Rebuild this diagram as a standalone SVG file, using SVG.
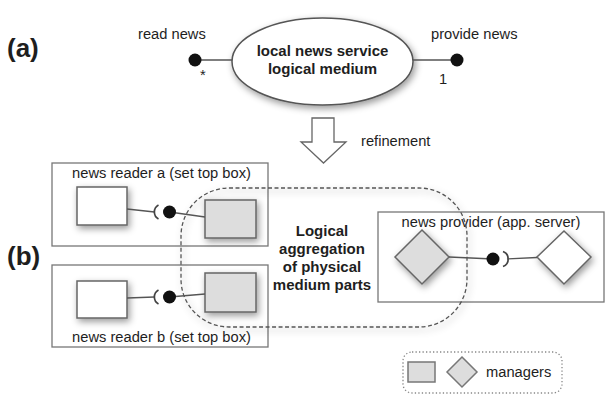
<svg xmlns="http://www.w3.org/2000/svg" width="606" height="398" viewBox="0 0 606 398">
<defs>
<filter id="sh" x="-40%" y="-40%" width="180%" height="190%">
<feDropShadow dx="2" dy="3" stdDeviation="3.5" flood-color="#000" flood-opacity="0.4"/>
</filter>
<style>
.t{font-family:"Liberation Sans",Arial,sans-serif;font-size:14.7px;fill:#1e1e1e}
.b{font-family:"Liberation Sans",Arial,sans-serif;font-size:15px;font-weight:bold;fill:#1e1e1e}
.lab{font-family:"Liberation Sans",Arial,sans-serif;font-size:26px;font-weight:bold;fill:#1e1e1e}
.box{fill:#fff;stroke:#777;stroke-width:1.3}
.wh{fill:#fff;stroke:#666;stroke-width:1.5;filter:url(#sh)}
.gr{fill:#ddd;stroke:#666;stroke-width:1.5;filter:url(#sh)}
.ln{fill:none;stroke:#555;stroke-width:1.3}
.sk{fill:none;stroke:#444;stroke-width:1.7}
.dot{fill:#111}
</style>
</defs>
<rect width="606" height="398" fill="#fff"/>
<text class="lab" x="7" y="57">(a)</text>
<text class="lab" x="7" y="265">(b)</text>

<g id="reader-a">
<rect class="box" x="52" y="163" width="216" height="83"/>
<text class="t" x="161.5" y="178" text-anchor="middle">news reader a (set top box)</text>
<rect class="wh" x="77" y="187" width="50" height="38"/>
</g>
<g id="reader-b">
<rect class="box" x="52" y="265" width="216" height="82"/>
<text class="t" x="161.5" y="342" text-anchor="middle">news reader b (set top box)</text>
<rect class="wh" x="77" y="281" width="50" height="37"/>
</g>
<g id="provider">
<rect class="box" x="378" y="212" width="226" height="90"/>
<text class="t" x="491" y="227" text-anchor="middle">news provider (app. server)</text>
<polygon class="wh" points="564,231 591,257 564,284 537,257"/>
</g>

<g id="aggregation">
<rect x="181" y="188" width="286" height="139" rx="48" ry="48" fill="none" stroke="#555" stroke-width="1.3" stroke-dasharray="4 2.5" filter="url(#sh)"/>
<text class="b" text-anchor="middle"><tspan x="322" y="236">Logical</tspan><tspan x="322" y="254">aggregation</tspan><tspan x="322" y="272">of physical</tspan><tspan x="322" y="290">medium parts</tspan></text>
</g>

<g id="manager-a"><rect class="gr" x="205" y="200" width="51" height="38"/></g>
<g id="manager-b"><rect class="gr" x="205" y="273" width="51" height="39"/></g>
<g id="manager-provider"><polygon class="gr" points="422,230 449,257 422,284 395,257"/></g>

<g id="medium">
<ellipse cx="322.5" cy="61.5" rx="90.5" ry="43.5" fill="#fff" stroke="#555" stroke-width="1.5" filter="url(#sh)"/>
<text class="b" text-anchor="middle"><tspan x="322.5" y="55.5">local news service</tspan><tspan x="322.5" y="73.5">logical medium</tspan></text>
</g>

<g id="refinement">
<path d="M312 118 H334 V142 H346 L323.5 163 L301 142 H312 Z" fill="#fff" stroke="#666" stroke-width="1.3"/>
<text class="t" x="361" y="146">refinement</text>
</g>

<g id="connectors">
<line class="ln" x1="195" y1="60" x2="232" y2="60"/>
<circle class="dot" cx="195" cy="60" r="6.5"/>
<text class="t" x="138" y="39">read news</text>
<text class="t" x="200" y="80" font-size="11">*</text>
<line class="ln" x1="413" y1="60" x2="457" y2="60"/>
<circle class="dot" cx="457" cy="60" r="6.5"/>
<text class="t" x="431" y="39">provide news</text>
<text class="t" x="439" y="84">1</text>

<line class="ln" x1="127" y1="209" x2="154.5" y2="212"/>
<path class="sk" d="M158.5 205 A8 8 0 0 0 158.5 219"/>
<line class="ln" x1="169.5" y1="212" x2="205" y2="217"/>
<circle class="dot" cx="169.5" cy="212" r="6.5"/>

<line class="ln" x1="127" y1="298" x2="154.5" y2="297"/>
<path class="sk" d="M158.5 290 A8 8 0 0 0 158.5 304"/>
<line class="ln" x1="169.5" y1="297" x2="205" y2="294"/>
<circle class="dot" cx="169.5" cy="297" r="6.5"/>

<line class="ln" x1="449" y1="257" x2="493" y2="259"/>
<circle class="dot" cx="493" cy="259" r="6.5"/>
<path class="sk" d="M503 251.5 A8 8 0 0 1 503 266.5"/>
<line class="ln" x1="507" y1="259" x2="537" y2="257.5"/>
</g>

<g id="legend">
<rect x="403" y="352" width="159" height="41" rx="9" fill="none" stroke="#888" stroke-width="1.3" stroke-dasharray="1.3 2.2"/>
<rect x="408" y="362" width="27" height="20" fill="#ddd" stroke="#777" stroke-width="1.5"/>
<polygon points="462,357 477,372 462,387 447,372" fill="#ddd" stroke="#777" stroke-width="1.5"/>
<text class="t" x="486" y="377">managers</text>
</g>
</svg>
